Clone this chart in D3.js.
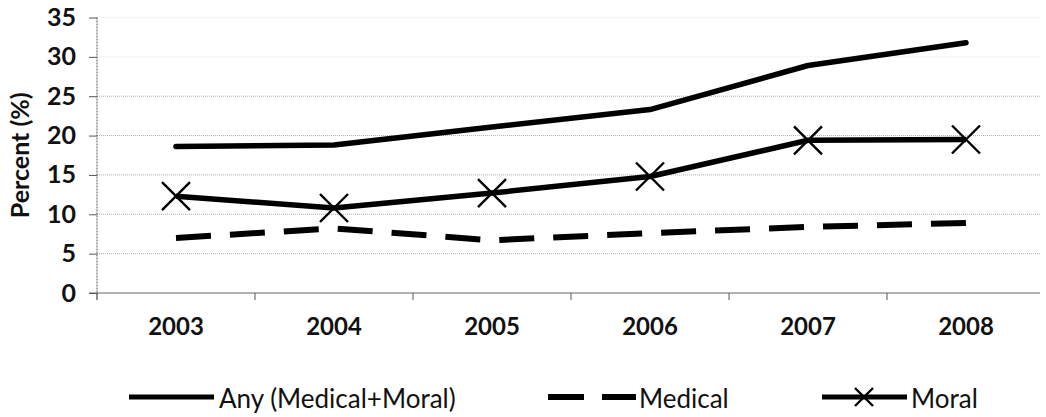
<!DOCTYPE html>
<html>
<head>
<meta charset="utf-8">
<script src="https://cdn.jsdelivr.net/npm/d3@7"></script>
<style>
  body { margin: 0; background: #fff; }
  svg { display: block; font-family: Lato, "Open Sans", sans-serif; }
</style>
</head>
<body>
<div id="chart"></div>
<script>
// values
const years = ['2003', '2004', '2005', '2006', '2007', '2008'];
const anyVals = [18.6, 18.8, 21.1, 23.3, 28.9, 31.8];
const medicalVals = [7.0, 8.2, 6.7, 7.6, 8.4, 8.9];
const moralVals = [12.3, 10.8, 12.7, 14.8, 19.4, 19.5];
const yTicks = [0, 5, 10, 15, 20, 25, 30, 35];

const dim = { width: 1046, height: 417 };

const svg = d3.select('#chart').append('svg')
    .attr('width', dim.width)
    .attr('height', dim.height);

const x = d3.scaleBand().domain(years).range([97, 1045]);
const y = d3.scaleLinear().domain([0, 35]).range([293, 17.5]);

// gridlines (dotted and faint, like the scan)
svg.append('g')
    .selectAll('line')
    .data(yTicks.filter(d => d > 0))
    .join('line')
    .attr('x1', 97).attr('x2', 1040)
    .attr('y1', d => y(d)).attr('y2', d => y(d))
    .attr('stroke', '#999')
    .attr('stroke-width', 1)
    .attr('stroke-dasharray', '1,1')
    .attr('opacity', d => d > 25 ? 0.2 : 0.8);

// y axis
const yAxis = svg.append('g')
    .attr('transform', 'translate(97,0)')
    .call(d3.axisLeft(y).tickValues(yTicks).tickSize(8).tickPadding(13));
yAxis.select('.domain').attr('d', 'M0,' + y(35) + 'V300')
    .attr('stroke', '#555').attr('stroke-dasharray', '2,1');
yAxis.selectAll('.tick line').attr('stroke', '#555');
yAxis.selectAll('text')
    .attr('font-size', 25).attr('font-weight', 'bold').attr('fill', '#111')
    .attr('font-family', 'Lato, sans-serif');

// x axis
const xAxis = svg.append('g')
    .attr('transform', 'translate(0,' + y(0) + ')')
    .call(d3.axisBottom(x).tickSize(0).tickPadding(25));
xAxis.select('.domain').attr('d', 'M89,0H1040').attr('stroke', '#666');
xAxis.selectAll('text')
    .attr('font-size', 24).attr('font-weight', 'bold').attr('fill', '#111')
    .attr('font-family', 'Lato, sans-serif');
// tick marks between categories
xAxis.append('g')
    .selectAll('line')
    .data(years)
    .join('line')
    .attr('x1', d => x(d)).attr('x2', d => x(d))
    .attr('y1', 0).attr('y2', 7)
    .attr('stroke', '#555');

// y title
svg.append('text')
    .attr('transform', 'translate(29,' + y(17.5) + ') rotate(-90)')
    .attr('text-anchor', 'middle')
    .attr('font-size', 25).attr('font-weight', 'bold').attr('fill', '#111')
    .text('Percent (%)');

const cx = d => x(d) + x.bandwidth() / 2;
const line = d3.line()
    .x((d, i) => cx(years[i]))
    .y(d => y(d));

const g = svg.append('g');

g.append('path').datum(anyVals)
    .attr('d', line)
    .attr('fill', 'none').attr('stroke', '#000')
    .attr('stroke-width', 5.5).attr('stroke-linecap', 'round').attr('stroke-linejoin', 'round');

g.append('path').datum(medicalVals)
    .attr('d', line)
    .attr('fill', 'none').attr('stroke', '#000')
    .attr('stroke-width', 6).attr('stroke-dasharray', '35,19');

g.append('path').datum(moralVals)
    .attr('d', line)
    .attr('fill', 'none').attr('stroke', '#000')
    .attr('stroke-width', 5.5).attr('stroke-linejoin', 'round');

function cross(sel, s) {
    sel.append('path')
        .attr('d', 'M' + (-s) + ',' + (-s) + 'L' + s + ',' + s + 'M' + (-s) + ',' + s + 'L' + s + ',' + (-s))
        .attr('stroke', '#000').attr('stroke-width', 2.4).attr('fill', 'none');
}

g.selectAll('.mark')
    .data(moralVals)
    .join('g')
    .attr('class', 'mark')
    .attr('transform', (d, i) => 'translate(' + cx(years[i]) + ',' + y(d) + ')')
    .each(function() { cross(d3.select(this), 14); });

// legend
const leg = svg.append('g').attr('font-size', 26).attr('fill', '#111');
const ly = 397;

leg.append('line').attr('x1', 129).attr('x2', 214).attr('y1', ly).attr('y2', ly)
    .attr('stroke', '#000').attr('stroke-width', 5);
leg.append('text').attr('x', 219).attr('y', ly + 11).text('Any (Medical+Moral)');

leg.append('line').attr('x1', 548).attr('x2', 636).attr('y1', ly).attr('y2', ly)
    .attr('stroke', '#000').attr('stroke-width', 6).attr('stroke-dasharray', '36,18');
leg.append('text').attr('x', 639).attr('y', ly + 11).text('Medical');

leg.append('line').attr('x1', 822).attr('x2', 907).attr('y1', ly).attr('y2', ly)
    .attr('stroke', '#000').attr('stroke-width', 5);
const lm = leg.append('g').attr('transform', 'translate(864,' + ly + ')');
cross(lm, 9);
leg.append('text').attr('x', 911).attr('y', ly + 11).text('Moral');
</script>
</body>
</html>
